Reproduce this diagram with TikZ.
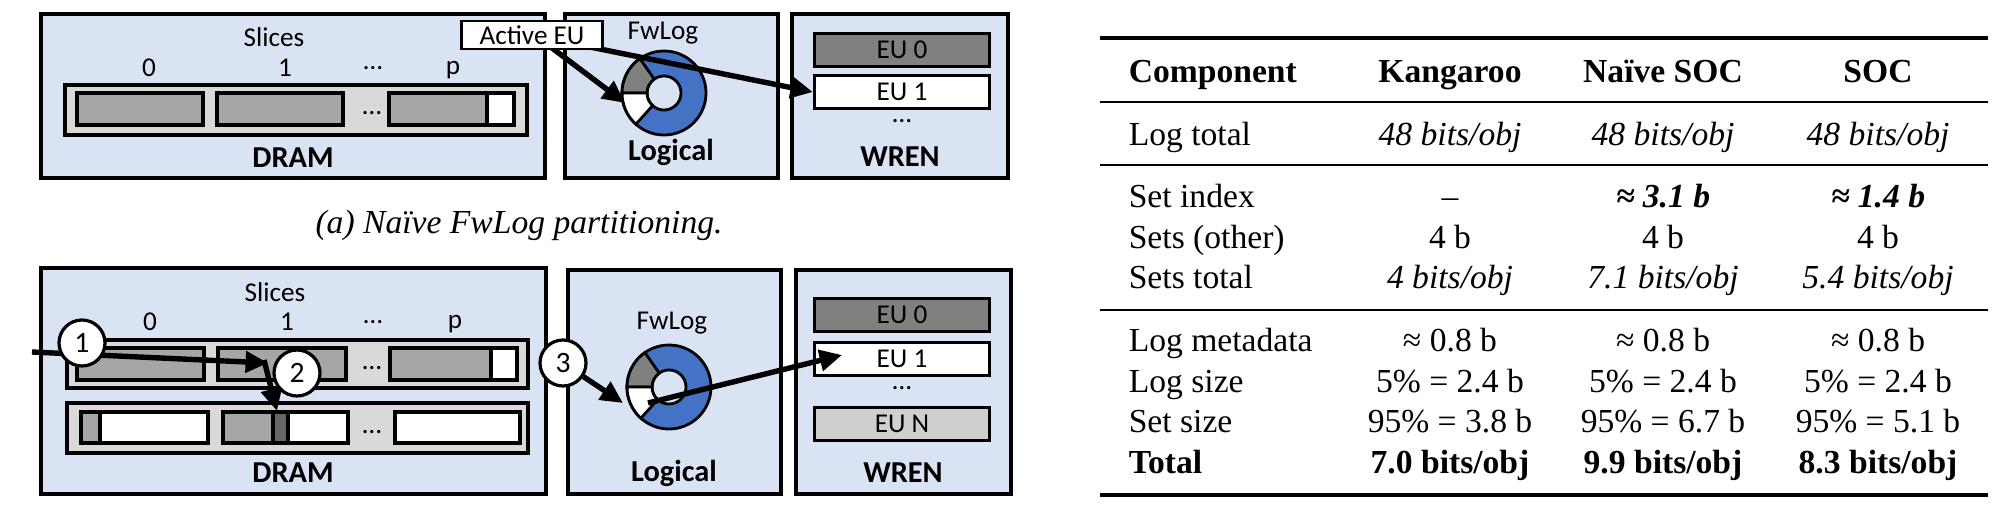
\documentclass[tikz,border=0pt]{standalone}
\usepackage{fontspec}
\setmainfont{Liberation Serif}
\newfontfamily\calibri{Carlito}
\usetikzlibrary{arrows.meta}

\definecolor{panelblue}{HTML}{DAE3F3}
\definecolor{bargray}{HTML}{D9D9D9}
\definecolor{slicegray}{HTML}{A6A6A6}
\definecolor{eudark}{HTML}{808080}
\definecolor{eulight}{HTML}{D0CECE}
\definecolor{stripdark}{HTML}{666666}
\definecolor{ringblue}{HTML}{4472C4}

\tikzset{
  panel/.style={line width=0.8pt, fill=panelblue},
  bar/.style={line width=0.8pt, fill=bargray},
  slice/.style={line width=0.8pt, fill=slicegray},
  eubox/.style={draw, line width=0.8pt, minimum width=43.75pt, minimum height=8.4pt, inner sep=0pt, font=\calibri\fontsize{6.8}{8}\selectfont},
  lbl/.style={inner sep=0pt, font=\calibri\fontsize{6.8}{8}\selectfont},
  paneltitle/.style={inner sep=0pt, font=\calibri\bfseries\fontsize{7.6}{9}\selectfont},
  stepnum/.style={draw, circle, line width=0.8pt, fill=white, minimum size=11.5pt, inner sep=0pt, font=\calibri\fontsize{7.4}{8}\selectfont},
  bigarrow/.style={line width=1.35pt, -{Triangle[length=5.6pt,width=5.2pt]}},
  tabcell/.style={anchor=base, inner sep=0pt, font=\fontsize{8.4}{10}\selectfont},
}

\begin{document}
\begin{tikzpicture}[x=0.25pt, y=-0.25pt]
        \useasboundingbox (0,0) rectangle (2012,514);

        % (a) naive partitioning
        \filldraw[panel] (41,14) rectangle (545,178);
        \filldraw[panel] (565,14) rectangle (778,178);
        \filldraw[panel] (792,14) rectangle (1008,178);
        \node[lbl] (slicesA) at (274,37) {Slices};
        \node[lbl] (numA0) at (149,68) {0};
        \node[lbl] (numA1) at (285,68) {1};
        \node[lbl] (numAd) at (373,68) {…};
        \node[lbl] (numAp) at (453,70) {p};
        \filldraw[bar] (65,85) rectangle (527,135);
        \filldraw[slice] (77,93) rectangle (203,125);
        \filldraw[slice] (217,93) rectangle (343,125);
        \fill[white] (487,93) rectangle (514,125);
        \filldraw[slice] (389,93) rectangle (487,125);
        \draw[line width=0.8pt] (389,93) rectangle (514,125);
        \node[lbl] (dotsA) at (372,113) {…};
        \node[paneltitle] (dramA) at (293,158) {DRAM};
        \node[lbl] (fwlogA) at (663,33) {FwLog};
        \node[paneltitle] (logicalA) at (671,152) {Logical};
        \node[eubox, fill=eudark] (euA0) at (902,50) {EU 0};
        \node[eubox, fill=white] (euA1) at (902,92) {EU 1};
        \node[lbl] (dotsWA) at (902,121) {…};
        \node[paneltitle] (wrenA) at (900,157) {WREN};
        \coordinate (ringA) at (664,93);

        % (b) slice-ordered partitioning
        \filldraw[panel] (41,268) rectangle (546,494);
        \filldraw[panel] (568,270) rectangle (781,494);
        \filldraw[panel] (796,270) rectangle (1011,494);
        \node[lbl] (slicesB) at (275,292) {Slices};
        \node[lbl] (numB0) at (150,322) {0};
        \node[lbl] (numB1) at (287,322) {1};
        \node[lbl] (numBd) at (373,322) {…};
        \node[lbl] (numBp) at (455,324) {p};
        \filldraw[bar] (67,340) rectangle (528,388);
        \filldraw[slice] (77,348) rectangle (204,380);
        \filldraw[slice] (218,348) rectangle (346,380);
        \fill[white] (491,348) rectangle (517,380);
        \filldraw[slice] (390,348) rectangle (491,380);
        \draw[line width=0.8pt] (390,348) rectangle (517,380);
        \node[lbl] (dotsB) at (372,368) {…};
        \filldraw[bar] (67,403) rectangle (528,453);
        \fill[white] (81,412) rectangle (208,443);
        \filldraw[slice] (81,412) rectangle (100,443);
        \draw[line width=0.8pt] (81,412) rectangle (208,443);
        \fill[white] (223,412) rectangle (348,443);
        \filldraw[slice] (223,412) rectangle (273,443);
        \filldraw[line width=0.8pt, fill=stripdark] (273,412) rectangle (288,443);
        \draw[line width=0.8pt] (223,412) rectangle (348,443);
        \filldraw[line width=0.8pt, fill=white] (395,412) rectangle (520,443);
        \node[lbl] (dotsC) at (372,432) {…};
        \node[paneltitle] (dramB) at (293,473) {DRAM};
        \node[lbl] (fwlogB) at (672,323) {FwLog};
        \node[paneltitle] (logicalB) at (674,473) {Logical};
        \node[eubox, fill=eudark] (euB0) at (902,315) {EU 0};
        \node[eubox, fill=white] (euB1) at (902,359) {EU 1};
        \node[lbl] (dotsWB) at (902,388) {…};
        \node[eubox, fill=eulight] (euBN) at (902,424) {EU N};
        \node[paneltitle] (wrenB) at (903,473) {WREN};
        \coordinate (ringB) at (669,387);

        \foreach \r in {ringA, ringB} {
            \fill[ringblue, even odd rule] (\r) circle (10.5pt) (\r) circle (4.25pt);
            \draw[line width=0.7pt] (\r) circle (10.5pt) (\r) circle (4.25pt);
            \filldraw[fill=eudark, line width=0.7pt] ([shift={(125:10.5pt)}]\r) arc[start angle=125, end angle=180, radius=10.5pt]
                -- ([shift={(180:4.25pt)}]\r) arc[start angle=180, end angle=125, radius=4.25pt] -- cycle;
            \filldraw[fill=white, line width=0.7pt] ([shift={(180:10.5pt)}]\r) arc[start angle=180, end angle=228, radius=10.5pt]
                -- ([shift={(228:4.25pt)}]\r) arc[start angle=228, end angle=180, radius=4.25pt] -- cycle;
        }

        % arrows
        \coordinate (actA) at (552,48);
        \coordinate (actB) at (585,46);
        \coordinate (hitA) at (625,103);
        \draw[bigarrow] (actA) -- (hitA);
        \draw[bigarrow] (actB) -- (euA1.west);
        \node[draw, line width=0.7pt, fill=white, minimum width=35.25pt, minimum height=7pt, inner sep=0pt,
            font=\calibri\fontsize{6.8}{8}\selectfont] (active) at (532,35) {Active EU};

        \coordinate (inB) at (32,352);
        \coordinate (hitS1) at (268,363);
        \coordinate (fromS1) at (264,360);
        \coordinate (hitS2) at (277,411);
        \coordinate (hitB) at (623,403);
        \coordinate (outB) at (648,403);
        \coordinate (hitEU) at (842,355);
        \draw[bigarrow] (inB) -- (hitS1);
        \draw[bigarrow] (fromS1) -- (hitS2);
        \draw[bigarrow] (outB) -- (hitEU);
        \node[stepnum] (step1) at (82,343) {1};
        \node[stepnum] (step2) at (297,373) {2};
        \node[stepnum] (step3) at (563,363) {3};
        \draw[bigarrow] (step3) -- (hitB);

        \node[anchor=base, inner sep=0pt, font=\fontsize{8.4}{10}\selectfont\itshape] (capA) at (519,233) {(a) Naïve FwLog partitioning.};

        % table
        \draw[line width=0.9pt] (1100,38) -- (1988,38);
        \draw[line width=0.55pt] (1100,102) -- (1988,102);
        \draw[line width=0.55pt] (1100,165) -- (1988,165);
        \draw[line width=0.55pt] (1100,310) -- (1988,310);
        \draw[line width=0.9pt] (1100,495) -- (1988,495);

        \node[tabcell, anchor=base west] (hComp) at (1128,82) {\textbf{Component}};
        \node[tabcell] (hKang) at (1450,82) {\textbf{Kangaroo}};
        \node[tabcell] (hNaive) at (1663,82) {\textbf{Naïve SOC}};
        \node[tabcell] (hSoc) at (1878,82) {\textbf{SOC}};

        \node[tabcell, anchor=base west] (logTotal) at (1128,145) {Log total};
        \node[tabcell] (logTotalK) at (1450,145) {\textit{48 bits/obj}};
        \node[tabcell] (logTotalN) at (1663,145) {\textit{48 bits/obj}};
        \node[tabcell] (logTotalS) at (1878,145) {\textit{48 bits/obj}};

        \node[tabcell, anchor=base west] (setIndex) at (1128,207) {Set index};
        \node[tabcell] (setIndexK) at (1450,207) {–};
        \node[tabcell] (setIndexN) at (1663,207) {\textbf{\textit{≈ 3.1 b}}};
        \node[tabcell] (setIndexS) at (1878,207) {\textbf{\textit{≈ 1.4 b}}};

        \node[tabcell, anchor=base west] (setsOther) at (1128,248) {Sets (other)};
        \node[tabcell] (setsOtherK) at (1450,248) {4 b};
        \node[tabcell] (setsOtherN) at (1663,248) {4 b};
        \node[tabcell] (setsOtherS) at (1878,248) {4 b};

        \node[tabcell, anchor=base west] (setsTotal) at (1128,288) {Sets total};
        \node[tabcell] (setsTotalK) at (1450,288) {\textit{4 bits/obj}};
        \node[tabcell] (setsTotalN) at (1663,288) {\textit{7.1 bits/obj}};
        \node[tabcell] (setsTotalS) at (1878,288) {\textit{5.4 bits/obj}};

        \node[tabcell, anchor=base west] (logMeta) at (1128,351) {Log metadata};
        \node[tabcell] (logMetaK) at (1450,351) {≈ 0.8 b};
        \node[tabcell] (logMetaN) at (1663,351) {≈ 0.8 b};
        \node[tabcell] (logMetaS) at (1878,351) {≈ 0.8 b};

        \node[tabcell, anchor=base west] (logSize) at (1128,392) {Log size};
        \node[tabcell] (logSizeK) at (1450,392) {5\% = 2.4 b};
        \node[tabcell] (logSizeN) at (1663,392) {5\% = 2.4 b};
        \node[tabcell] (logSizeS) at (1878,392) {5\% = 2.4 b};

        \node[tabcell, anchor=base west] (setSize) at (1128,432) {Set size};
        \node[tabcell] (setSizeK) at (1450,432) {95\% = 3.8 b};
        \node[tabcell] (setSizeN) at (1663,432) {95\% = 6.7 b};
        \node[tabcell] (setSizeS) at (1878,432) {95\% = 5.1 b};

        \node[tabcell, anchor=base west] (total) at (1128,473) {\textbf{Total}};
        \node[tabcell] (totalK) at (1450,473) {\textbf{7.0 bits/obj}};
        \node[tabcell] (totalN) at (1663,473) {\textbf{9.9 bits/obj}};
        \node[tabcell] (totalS) at (1878,473) {\textbf{8.3 bits/obj}};
\end{tikzpicture}
\end{document}
